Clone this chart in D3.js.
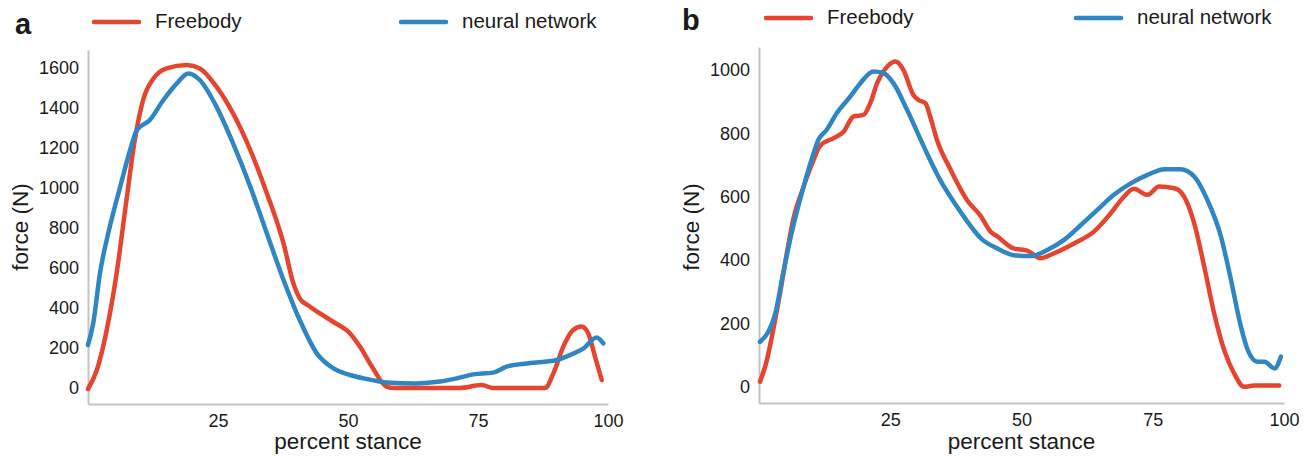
<!DOCTYPE html>
<html>
<head>
<meta charset="utf-8">
<script src="https://cdn.jsdelivr.net/npm/d3@7"></script>
<style>
  body { margin: 0; background: #fff; }
  text { font-family: "Liberation Sans", Arial, sans-serif; fill: #1a1a1a; }
</style>
</head>
<body>
<div id="chart"></div>
<script>
// Series names and colours
const seriesNames = ["Freebody", "neural network"];
const seriesColors = ["#e5442f", "#2f86c3"];

// Tick labels
const xTicks = [25, 50, 75, 100];
const yTicksA = [0, 200, 400, 600, 800, 1000, 1200, 1400, 1600];
const yTicksB = [0, 200, 400, 600, 800, 1000];

// Panel a: [percent stance, force (N)]
const freebodyA = [[0,-5],[1.7,90],[3.6,290],[5.5,573],[7.4,940],[9.0,1240],[10.6,1440],[12.6,1548],[15.1,1598],[19.0,1615],[21.5,1598],[24.7,1507],[27.9,1373],[31.2,1190],[34.4,973],[37.6,723],[39.5,523],[40.8,445],[42.5,410],[44.6,373],[47.2,330],[50.4,273],[52.3,207],[54.6,107],[57.4,7],[59,0],[71.5,0],[75.7,15],[77.9,0],[87.9,0],[89.5,73],[91.4,207],[93.3,290],[94.9,307],[96.2,273],[97.5,157],[98.8,40]];
const networkA = [[0,215],[1.0,323],[2.3,573],[4.2,807],[6.2,1007],[8.1,1190],[9.4,1290],[11.9,1340],[14.5,1440],[17.1,1523],[19.3,1573],[21.5,1540],[24.7,1407],[27.9,1223],[31.2,1007],[34.4,773],[37.6,540],[40.8,335],[44.0,173],[47.2,98],[50.4,65],[53.6,45],[57.4,28],[63.2,23],[67.7,32],[70.9,48],[74.1,68],[77.9,77],[80.5,107],[84.4,123],[88.2,132],[90.1,140],[92.7,165],[95.3,198],[97.8,252],[99.1,223]];

// Panel b: [percent stance, force (N)]
const freebodyB = [[0.2,17],[1.5,85],[2.7,180],[4.0,295],[5.3,422],[6.5,527],[8.5,632],[10.4,716],[11.6,760],[14.2,785],[16.1,805],[18.0,853],[19.9,858],[21.2,895],[22.5,958],[24.4,1010],[26.0,1026],[27.5,1000],[29.4,921],[30.4,905],[31.7,895],[32.6,853],[33.9,779],[36.5,685],[39.6,590],[42.2,540],[44.1,490],[45.4,475],[48.5,437],[51.1,430],[53.6,406],[56.2,422],[60.0,453],[63.8,490],[67.0,548],[69.5,600],[71.4,625],[74.0,606],[76.2,632],[79.1,627],[81.0,600],[82.9,516],[84.8,380],[86.7,232],[88.6,117],[90.5,43],[92.4,1],[94.3,5],[99.1,5]];
const networkB = [[0.2,143],[1.8,175],[3.1,232],[4.6,359],[6.5,506],[8.5,632],[10.4,737],[11.3,779],[12.9,811],[14.8,863],[17.4,916],[19.3,958],[21.8,995],[23.7,990],[25.6,958],[28.2,874],[31.4,758],[34.5,653],[37.7,569],[40.9,495],[42.2,470],[45.4,437],[48.5,416],[51.7,413],[54.9,432],[58.1,464],[61.3,511],[64.4,558],[67.6,606],[70.8,642],[74.0,669],[77.2,687],[80.3,687],[82.9,664],[85.4,590],[88.0,474],[89.9,338],[91.8,190],[93.1,117],[95.0,80],[96.3,80],[98.2,59],[99.4,96]];

const width = 1312;
const height = 458;

const svg = d3.select("#chart")
  .append("svg")
    .attr("width", width)
    .attr("height", height)
    .attr("viewBox", `0, 0, ${width}, ${height}`);

const drawPanel = (p) => {

  /****************************/
  /*    Declare the scales    */
  /****************************/
  const xScale = d3.scaleLinear()
    .domain([0, 100])
    .range([p.left, p.right]);
  const yScale = d3.scaleLinear()
    .domain(p.yDomain)
    .range([p.bottom, p.top]);

  /***************************/
  /*     Append the axes     */
  /***************************/
  const bottomAxis = d3.axisBottom(xScale)
    .tickValues(xTicks)
    .tickFormat(d3.format("d"))
    .tickSize(0)
    .tickPadding(10);
  svg
    .append("g")
      .attr("transform", `translate(0, ${p.bottom})`)
      .call(bottomAxis)
      .call(g => g.select(".domain").attr("stroke", "#c4c4c4").attr("stroke-width", 2))
      .call(g => g.selectAll("text").style("font-size", "18px").attr("fill", "#1a1a1a"));

  const leftAxis = d3.axisLeft(yScale)
    .tickValues(p.yTicks)
    .tickFormat(d3.format("d"))
    .tickSize(0)
    .tickPadding(9);
  svg
    .append("g")
      .attr("transform", `translate(${p.left}, 0)`)
      .call(leftAxis)
      .call(g => g.select(".domain").attr("stroke", "#c4c4c4").attr("stroke-width", 2))
      .call(g => g.selectAll("text").style("font-size", "18px").attr("fill", "#1a1a1a"));

  // Axis labels
  svg
    .append("text")
      .text("percent stance")
      .attr("text-anchor", "middle")
      .attr("x", (p.left + p.right) / 2)
      .attr("y", 449)
      .style("font-size", "22.5px");
  svg
    .append("text")
      .text("force (N)")
      .attr("text-anchor", "middle")
      .attr("transform", `translate(${p.yLabelX}, 227) rotate(-90)`)
      .style("font-size", "22.5px");

  /****************************/
  /*     Append the lines     */
  /****************************/
  const line = d3.line()
    .x(d => xScale(d[0]))
    .y(d => yScale(d[1]))
    .curve(d3.curveMonotoneX);

  [p.freebody, p.network].forEach((series, i) => {
    svg
      .append("path")
        .attr("d", line(series))
        .attr("fill", "none")
        .attr("stroke", seriesColors[i])
        .attr("stroke-width", 4.5)
        .attr("stroke-linejoin", "round")
        .attr("stroke-linecap", "round");
  });

  /****************************/
  /*    Panel tag and legend   */
  /****************************/
  svg
    .append("text")
      .text(p.tag)
      .attr("x", p.tagX)
      .attr("y", p.legendY + 6)
      .style("font-size", "29px")
      .style("font-weight", "bold")
      .attr("fill", "#000");

  seriesNames.forEach((name, i) => {
    const lx = p.legendX[i];
    svg
      .append("line")
        .attr("x1", lx)
        .attr("x2", lx + 45)
        .attr("y1", p.legendY - 6)
        .attr("y2", p.legendY - 6)
        .attr("stroke", seriesColors[i])
        .attr("stroke-width", 4.5)
        .attr("stroke-linecap", "round");
    svg
      .append("text")
        .text(name)
        .attr("x", lx + 61)
        .attr("y", p.legendY)
        .style("font-size", "20.5px");
  });
};

drawPanel({
  tag: "a", tagX: 15, legendY: 28, legendX: [94, 401],
  left: 88, right: 608, top: 50, bottom: 404,
  yDomain: [-80, 1690], yTicks: yTicksA, yLabelX: 28,
  freebody: freebodyA, network: networkA
});

drawPanel({
  tag: "b", tagX: 682, legendY: 24, legendX: [766, 1076],
  left: 759, right: 1284, top: 47, bottom: 403,
  yDomain: [-50, 1072], yTicks: yTicksB, yLabelX: 699,
  freebody: freebodyB, network: networkB
});
</script>
</body>
</html>
